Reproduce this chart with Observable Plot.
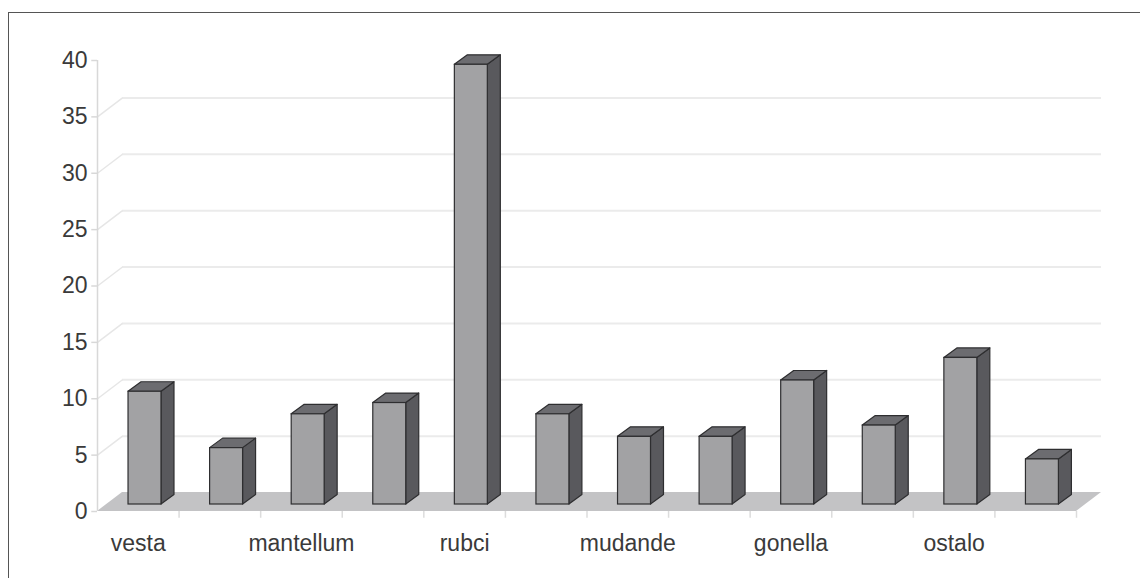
<!DOCTYPE html>
<html>
<head>
<meta charset="utf-8">
<script src="https://cdn.jsdelivr.net/npm/d3@7"></script>
<script src="https://cdn.jsdelivr.net/npm/@observablehq/plot@0.6"></script>
<style>
  html, body { margin: 0; padding: 0; background: #ffffff; }
  #wrap { position: relative; width: 1140px; height: 578px; overflow: hidden; }
  #frame { position: absolute; left: 8px; top: 12px; width: 1140px; height: 580px;
           border-top: 1.5px solid #555; border-left: 1.5px solid #555; pointer-events: none; z-index: 2; }
  #chart svg { display: block; }
</style>
</head>
<body>
<div id="wrap">
  <div id="chart"></div>
  <div id="frame"></div>
</div>
<script>
// ---- data ----
const labels = ["vesta", "", "mantellum", "", "rubci", "", "mudande", "", "gonella", "", "ostalo", ""];
const values = [10, 5, 8, 9, 39, 8, 6, 6, 11, 7, 13, 4];
const yTicks = [0, 5, 10, 15, 20, 25, 30, 35, 40];
const gridValues = [5, 10, 15, 20, 25, 30, 35];

// ---- 3D geometry (in scale units) ----
const W = 1140, H = 578;
const mLeft = 97, mRight = W - 1076, mTop = 60, mBottom = H - 511;
const pxX = (W - mLeft - mRight) / labels.length;   // pixels per category
const pxY = (H - mTop - mBottom) / 40;              // pixels per unit
const FX = 25 / pxX, FY = 19 / pxY;                 // full depth (floor / back wall)
const SX = 13 / pxX, SY = 9.5 / pxY;                // bar depth
const L = 0.27, R = 0.674;                          // bar front face within band
const BDX = 9, BDY = -7;                            // bar mid-depth pixel offset

const bars = values.map((v, i) => ({i, v}));
const sidePts = bars.flatMap(d => [
  {i: d.i, x: d.i + R, y1: 0, y2: d.v},
  {i: d.i, x: d.i + R + SX, y1: SY, y2: d.v + SY}
]);
const topPts = bars.flatMap(d => [
  {i: d.i, y: d.v, x1: d.i + L, x2: d.i + R},
  {i: d.i, y: d.v + SY, x1: d.i + L + SX, x2: d.i + R + SX}
]);
const floorPts = [
  {y: 0, x1: 0, x2: labels.length},
  {y: FY, x1: FX, x2: labels.length + FX}
];

const font = "'Liberation Sans', Arial, sans-serif";
const textColor = "#3a3a3a";

const chart = Plot.plot({
  width: W, height: H,
  marginLeft: mLeft, marginRight: mRight, marginTop: mTop, marginBottom: mBottom,
  style: {fontFamily: font, background: "transparent"},
  x: {type: "linear", domain: [0, labels.length], axis: null},
  y: {type: "linear", domain: [0, 40], axis: null},
  marks: [
    // back wall gridlines and their diagonal connectors
    Plot.ruleY(gridValues, {y: d => d + FY, x1: FX, x2: labels.length + FX, stroke: "#ebebeb", strokeWidth: 2}),
    Plot.link(gridValues, {x1: 0, y1: d => d, x2: FX, y2: d => d + FY, stroke: "#e6e6e6", strokeWidth: 1.5}),
    // floor
    Plot.areaX(floorPts, {y: "y", x1: "x1", x2: "x2", fill: "#c3c3c5", curve: "linear"}),
    // y axis line and ticks
    Plot.ruleX([0], {y1: 0, y2: 40, stroke: "#d8d8d8", strokeWidth: 1.5}),
    Plot.ruleY(yTicks, {x1: -0.07, x2: 0, y: d => d, stroke: "#d8d8d8", strokeWidth: 1.5}),
    // x axis ticks (category boundaries)
    Plot.ruleX(d3.range(1, labels.length + 1), {x: d => d, y1: 0, y2: -0.6, stroke: "#dcdcdc", strokeWidth: 1.5}),
    // bars: side, top, front
    Plot.areaY(sidePts, {x: "x", y1: "y1", y2: "y2", z: "i", fill: "#59595d", stroke: "#2e2e30", strokeWidth: 1.2, dx: BDX, dy: BDY, curve: "linear"}),
    Plot.areaX(topPts, {y: "y", x1: "x1", x2: "x2", z: "i", fill: "#6c6c70", stroke: "#2e2e30", strokeWidth: 1.2, dx: BDX, dy: BDY, curve: "linear"}),
    Plot.rect(bars, {x1: d => d.i + L, x2: d => d.i + R, y1: 0, y2: d => d.v, fill: "#a2a2a4", stroke: "#2e2e30", strokeWidth: 1.2, dx: BDX, dy: BDY}),
    // y tick labels
    Plot.text(yTicks, {x: 0, y: d => d, text: d => String(d), textAnchor: "end", dx: -10, fontSize: 23, fill: textColor}),
    // x tick labels
    Plot.text(bars.filter(d => labels[d.i] !== ""), {x: d => d.i + 0.5, y: 0, text: d => labels[d.i], dy: 32, fontSize: 23, fill: textColor, style: "letter-spacing:1.1px"})
  ]
});
document.getElementById("chart").appendChild(chart);
</script>
</body>
</html>
